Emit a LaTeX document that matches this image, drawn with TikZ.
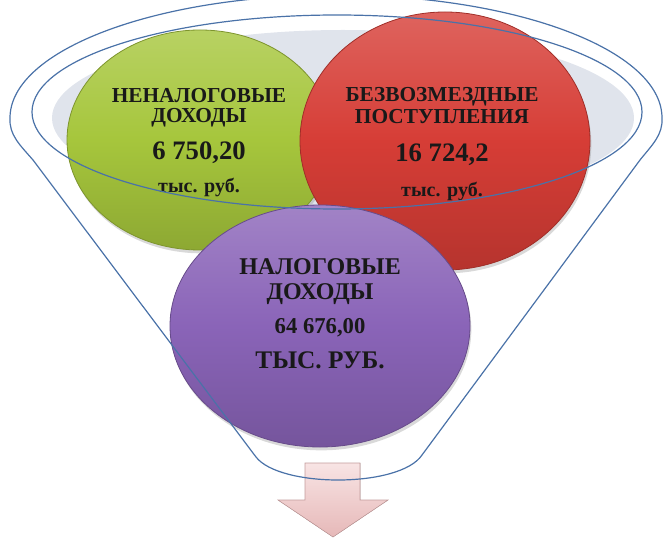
\documentclass[tikz,border=0pt]{standalone}
\usepackage{fontspec}
\setmainfont{Liberation Serif}
\usetikzlibrary{shapes.geometric,shadows}
\definecolor{funline}{HTML}{4A72A8}
\definecolor{rimgrey}{HTML}{E0E4EC}
\definecolor{limeg}{HTML}{A6C63C}
\definecolor{brick}{HTML}{D63D36}
\definecolor{lilac}{HTML}{8A64B8}
\definecolor{arrtop}{HTML}{F8E4E4}
\definecolor{arrbot}{HTML}{E6B8B8}
\begin{document}
\begin{tikzpicture}[x=0.75pt,y=-0.75pt,
    ball/.style={ellipse,inner sep=0pt,draw=#1!75!black,line width=0.6pt,
      top color=#1!80!white,bottom color=#1!85!black,middle color=#1,
      drop shadow={opacity=0.3,shadow xshift=1pt,shadow yshift=-2.5pt}},
    lbl/.style={anchor=base,text=black!90,font=\bfseries\fontsize{16}{18}\selectfont},
    funnel/.style={draw=funline,line width=0.9pt}]
    \clip (0,0) rectangle (667,538);
    \fill[rimgrey] (343,118) ellipse [x radius=291, y radius=88];
    \node[ball=limeg,minimum width=199.5pt,minimum height=165pt] (neval) at (200,140) {};
    \node[ball=brick,minimum width=217.5pt,minimum height=193.5pt] (bezv) at (445,141) {};
    \node[ball=lilac,minimum width=225pt,minimum height=181.5pt] (nal) at (320,326) {};
    \fill[top color=arrtop,bottom color=arrbot,draw=arrbot!85!black,line width=0.4pt]
        (305,463) -- (360,463) -- (360,500) -- (388,500) -- (333,537)
        -- (278,500) -- (305,500) -- cycle;
    \node[lbl] (nevname) at (199,103) {НЕНАЛОГОВЫЕ};
    \node[lbl] (nevname2) at (199,123) {ДОХОДЫ};
    \node[lbl,font=\bfseries\fontsize{20}{22}\selectfont] (nevsum) at (199,160) {6 750,20};
    \node[lbl,font=\bfseries\fontsize{15}{17}\selectfont] (nevunit) at (199,193) {тыс. руб.};
    \node[lbl] (bezname) at (442,102) {БЕЗВОЗМЕЗДНЫЕ};
    \node[lbl] (bezname2) at (442,124) {ПОСТУПЛЕНИЯ};
    \node[lbl,font=\bfseries\fontsize{20}{22}\selectfont] (bezsum) at (442,162) {16 724,2};
    \node[lbl,font=\bfseries\fontsize{15}{17}\selectfont] (bezunit) at (442,197) {тыс. руб.};
    \node[lbl,font=\bfseries\fontsize{18}{20}\selectfont] (nalname) at (320,274) {НАЛОГОВЫЕ};
    \node[lbl,font=\bfseries\fontsize{18}{20}\selectfont] (nalname2) at (320,299) {ДОХОДЫ};
    \node[lbl,font=\bfseries\fontsize{17}{19}\selectfont] (nalsum) at (320,333) {64 676,00};
    \node[lbl,font=\bfseries\fontsize{19}{21}\selectfont] (nalunit) at (320,368) {ТЫС. РУБ.};
    \draw[funnel] (337,112) ellipse [x radius=305, y radius=97];
    \draw[funnel] (10,118) arc[start angle=180,end angle=360,x radius=326,y radius=123]
        .. controls (663,135) and (652,145) .. (640,160) -- (422,455)
        .. controls (400,488) and (280,488) .. (256,457) -- (33,160)
        .. controls (20,145) and (9,135) .. (10,118);
\end{tikzpicture}
\end{document}
